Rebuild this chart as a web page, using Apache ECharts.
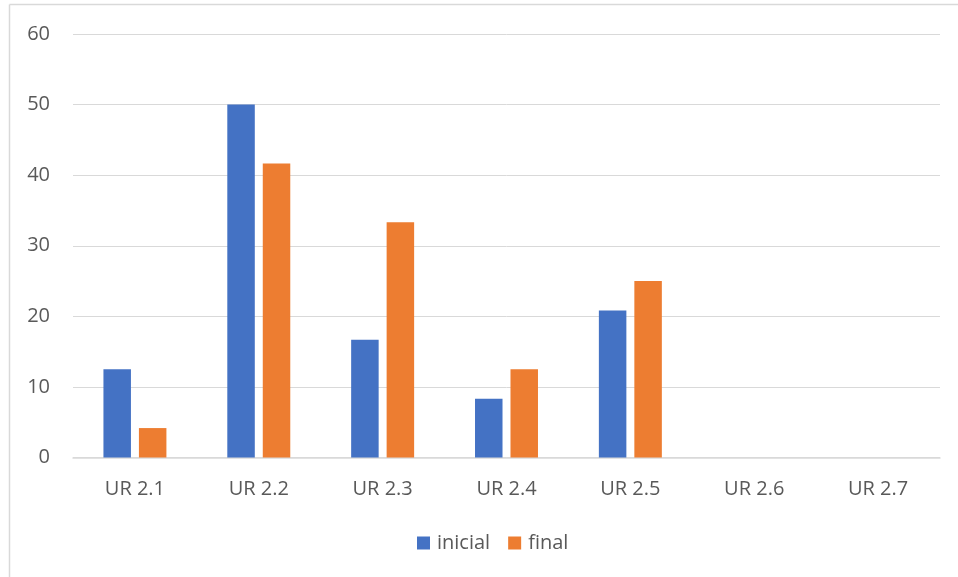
<!DOCTYPE html>
<html>
<head>
<meta charset="utf-8">
<script src="https://cdn.jsdelivr.net/npm/echarts@6/dist/echarts.min.js"></script>
<style>
  html, body { margin: 0; padding: 0; background: #fff; }
  #chart { width: 958px; height: 577px; }
</style>
</head>
<body>
<div id="chart"></div>
<script>
// Categories and series values (percentages)
const categories = ['UR 2.1', 'UR 2.2', 'UR 2.3', 'UR 2.4', 'UR 2.5', 'UR 2.6', 'UR 2.7'];
const inicialValues = [12.5, 50, 16.67, 8.33, 20.83, 0, 0];
const finalValues = [4.17, 41.67, 33.33, 12.5, 25, 0, 0];
const seriesNames = ['inicial', 'final'];
const yTicks = [0, 10, 20, 30, 40, 50, 60];

const FONT = '"Open Sans", "Liberation Sans", sans-serif';
const TEXT = '#595959';
const GRID = '#d9d9d9';

const chart = echarts.init(document.getElementById('chart'), null, { renderer: 'canvas' });

chart.setOption({
  animation: false,
  backgroundColor: '#ffffff',
  graphic: [
    // outer chart frame (left and top edges visible)
    { type: 'line', shape: { x1: 9.5, y1: 4.5, x2: 9.5, y2: 577 }, style: { stroke: GRID, lineWidth: 1.5 } },
    { type: 'line', shape: { x1: 9.5, y1: 4.5, x2: 958, y2: 4.5 }, style: { stroke: GRID, lineWidth: 1.5 } }
  ],
  grid: { left: 73, right: 18, top: 34, bottom: 119.5, containLabel: false },
  legend: {
    data: seriesNames,
    bottom: 19,
    left: 412,
    itemWidth: 13,
    itemHeight: 13,
    itemGap: 18,
    icon: 'rect',
    textStyle: { color: TEXT, fontFamily: FONT, fontSize: 20, padding: [0, 0, 0, 2] }
  },
  xAxis: {
    type: 'category',
    data: categories,
    axisTick: { show: false },
    axisLine: { lineStyle: { color: GRID, width: 1.5 } },
    axisLabel: { color: TEXT, fontFamily: FONT, fontSize: 20, margin: 22 }
  },
  yAxis: {
    type: 'value',
    min: yTicks[0],
    max: yTicks[yTicks.length - 1],
    interval: 10,
    axisLine: { show: false },
    axisTick: { show: false },
    axisLabel: { color: TEXT, fontFamily: FONT, fontSize: 20, margin: 23 },
    splitLine: { lineStyle: { color: GRID, width: 1 } }
  },
  series: [
    {
      name: seriesNames[0],
      type: 'bar',
      data: inicialValues,
      barWidth: 27.5,
      barGap: '29%',
      itemStyle: { color: '#4472c4' }
    },
    {
      name: seriesNames[1],
      type: 'bar',
      data: finalValues,
      barWidth: 27.5,
      barGap: '29%',
      itemStyle: { color: '#ed7d31' }
    }
  ]
});
</script>
</body>
</html>
